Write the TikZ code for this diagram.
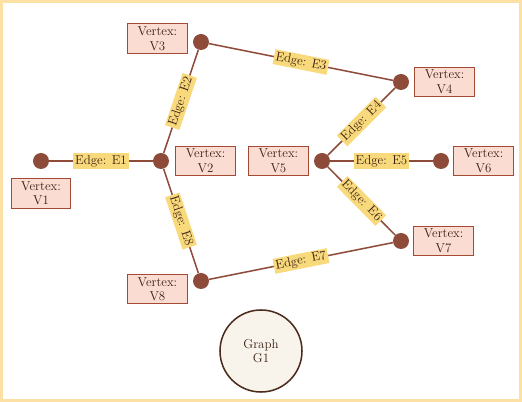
\documentclass[tikz,border=0pt]{standalone}
\usepackage{tikz}
\usetikzlibrary{positioning}

\definecolor{dotbrown}{HTML}{8E4B3A}
\definecolor{boxline}{HTML}{A24A34}
\definecolor{boxfill}{HTML}{FADCD2}
\definecolor{edgefill}{HTML}{F8D97C}
\definecolor{inktext}{HTML}{3B1F12}
\definecolor{graphfill}{HTML}{F8F4EC}
\definecolor{graphline}{HTML}{4B2C1C}
\definecolor{framecol}{HTML}{FDE1A4}

\begin{document}
\begin{tikzpicture}[x=0.03cm, y=-0.03cm, >=latex,
    font=\fontsize{11}{12.5}\selectfont,
    vdot/.style={circle, fill=dotbrown, minimum size=0.48cm, inner sep=0pt},
    vbox/.style={draw=boxline, fill=boxfill, text=inktext, align=center, minimum width=51pt, minimum height=25pt, inner sep=1.2pt, line width=0.8pt},
    elabel/.style={fill=edgefill, text=inktext, sloped, inner sep=1.5pt, midway},
    edge/.style={draw=dotbrown, line width=1.3pt}]
      \useasboundingbox (0,0) rectangle (522,402);
      % Frame
      \draw[framecol, line width=2pt] (1.5,1.5) rectangle (520.5,400.5);

      % Vertices
      \node[vdot] (v1) at (41,161) {};
      \node[vdot] (v2) at (161,161) {};
      \node[vdot] (v3) at (201,42) {};
      \node[vdot] (v4) at (401,82) {};
      \node[vdot] (v5) at (322,161) {};
      \node[vdot] (v6) at (441,161) {};
      \node[vdot] (v7) at (401,241) {};
      \node[vdot] (v8) at (201,281) {};

      % Vertex labels
      \node[vbox, below=0.27cm of v1] (v1l) {Vertex:\\V1};
      \node[vbox, right=0.18cm of v2] (v2l) {Vertex:\\V2};
      \node[vbox, left=0.15cm of v3, yshift=3pt] (v3l) {Vertex:\\V3};
      \node[vbox, right=0.15cm of v4] (v4l) {Vertex:\\V4};
      \node[vbox, left=0.15cm of v5] (v5l) {Vertex:\\V5};
      \node[vbox, right=0.12cm of v6] (v6l) {Vertex:\\V6};
      \node[vbox, right=0.12cm of v7] (v7l) {Vertex:\\V7};
      \node[vbox, left=0.15cm of v8, yshift=-7pt] (v8l) {Vertex:\\V8};

      % Edges
      \draw[edge] (v1) -- node[elabel] (e1) {Edge: E1} (v2);
      \draw[edge] (v2) -- node[elabel] (e2) {Edge: E2} (v3);
      \draw[edge] (v3) -- node[elabel] (e3) {Edge: E3} (v4);
      \draw[edge] (v5) -- node[elabel] (e4) {Edge: E4} (v4);
      \draw[edge] (v5) -- node[elabel] (e5) {Edge: E5} (v6);
      \draw[edge] (v5) -- node[elabel] (e6) {Edge: E6} (v7);
      \draw[edge] (v8) -- node[elabel] (e7) {Edge: E7} (v7);
      \draw[edge] (v2) -- node[elabel] (e8) {Edge: E8} (v8);

      % Graph
      \node[circle, draw=graphline, fill=graphfill, line width=1.3pt, minimum size=70pt, align=center, text=inktext] (g1) at (261,351) {Graph\\G1};
\end{tikzpicture}
\end{document}
